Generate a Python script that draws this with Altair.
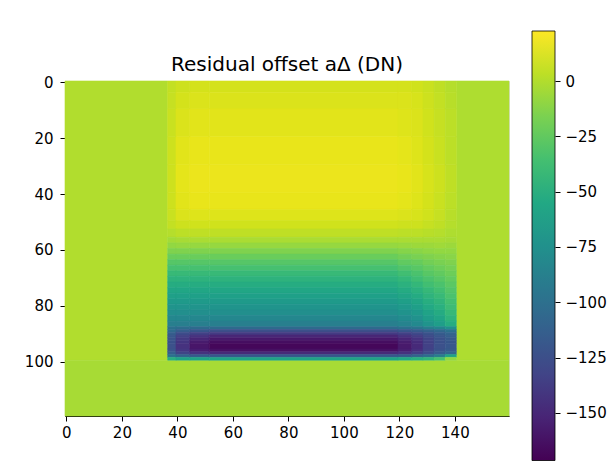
import altair as alt
import pandas as pd

# ---------------- chart values ----------------
n_cols, n_rows = 160, 120              # image size in pixels
v_min, v_max = -173, 22.6              # colour-scale limits (DN)
cbar_lo = -171.5                       # lowest value visible on the colour bar
cbar_ticks = [0, -25, -50, -75, -100, -125, -150]
x_ticks = [0, 20, 40, 60, 80, 100, 120, 140]
y_ticks = [0, 20, 40, 60, 80, 100]
title_text = "Residual offset a\u0394 (DN)"

# background levels outside the illuminated rectangle
bg_left = 0       # columns 0-37, rows 0-100
bg_right = -1     # columns 141-160, rows 0-100
bg_bottom = -3    # rows 100-120, all columns

# illuminated rectangle: column zones and row bands
zone_edges = [37, 40, 45, 52, 120, 125, 129, 133, 137, 141]
band_edges = [0, 4, 10, 20, 30, 40, 46, 50, 53, 56, 58, 60, 62, 64, 66, 68, 70,
              72, 74, 76, 78, 80, 82, 84, 86, 88, 89, 90, 91, 92, 93, 94, 96,
              97, 98, 99, 100]

zone_37_40 = [5, 6, 7, 8, 8, 8, 7, 5, 1, -4, -9, -15, -22, -29, -35, -41, -47,
              -52, -57, -62, -67, -72, -77, -83, -90, -100, -105, -115, -120,
              -122, -124, -125, -122, -115, -100, -50]
zone_40_45 = [8, 10, 12, 14, 15, 14, 12, 8, 3, -3, -8, -15, -22, -29, -35, -41,
              -47, -52, -57, -62, -67, -72, -77, -83, -90, -103, -115, -128,
              -135, -140, -143, -145, -142, -133, -112, -60]
zone_45_52 = [10, 12, 14, 16, 17, 16, 13, 9, 4, -2, -8, -15, -22, -29, -35, -41,
              -47, -52, -57, -62, -67, -72, -77, -83, -90, -105, -120, -135,
              -145, -152, -158, -162, -158, -145, -118, -60]
zone_52_120 = [10, 12, 14, 16, 17, 16, 13, 9, 4, -2, -8, -15, -22, -29, -35,
               -41, -47, -52, -57, -62, -67, -72, -77, -83, -90, -105, -125,
               -140, -152, -160, -166, -170, -165, -150, -120, -60]
zone_120_125 = [10, 12, 13, 15, 16, 15, 12, 8, 3, -2, -7, -13, -19, -25, -31,
                -37, -43, -48, -53, -58, -63, -68, -73, -79, -86, -100, -120,
                -135, -145, -152, -157, -160, -157, -145, -118, -55]
zone_125_129 = [9, 11, 12, 13, 14, 13, 11, 8, 3, -2, -6, -12, -17, -23, -28,
                -33, -38, -43, -48, -53, -58, -63, -68, -74, -81, -97, -117,
                -130, -138, -144, -148, -150, -147, -137, -112, -50]
zone_129_133 = [7, 8, 9, 10, 11, 10, 9, 6, 2, -2, -6, -10, -15, -19, -24, -28,
                -33, -37, -42, -46, -51, -55, -60, -65, -72, -90, -112, -123,
                -129, -133, -135, -136, -134, -127, -104, -45]
zone_133_137 = [4, 5, 6, 7, 8, 7, 6, 4, 1, -2, -5, -9, -13, -17, -21, -25, -29,
                -33, -37, -41, -45, -49, -53, -58, -64, -84, -106, -116, -121,
                -124, -125, -125, -123, -117, -92, -35]
zone_137_141 = [1, 2, 3, 3, 4, 3, 2, 1, -1, -3, -6, -9, -12, -15, -18, -21, -24,
                -27, -30, -33, -36, -39, -42, -46, -52, -75, -100, -110, -115,
                -118, -120, -120, -118, -110, -60, -10]
zones = [zone_37_40, zone_40_45, zone_45_52, zone_52_120, zone_120_125,
         zone_125_129, zone_129_133, zone_133_137, zone_137_141]

# viridis colour stops for the colour bar
viridis_stops = ["#440154", "#482475", "#414487", "#355f8d", "#2a788e", "#21918c",
                 "#22a884", "#44bf70", "#7ad151", "#bddf26", "#fde725"]

# ---------------- build the table of image regions ----------------
rows = []
def add(c0, c1, r0, r1, v):
    rows.append({"x0": c0 - 0.5, "x1": c1 - 0.5, "y0": r0 - 0.5, "y1": r1 - 0.5, "v": v})

add(0, zone_edges[0], 0, band_edges[-1], bg_left)
add(zone_edges[-1], n_cols, 0, band_edges[-1], bg_right)
add(0, n_cols, band_edges[-1], n_rows, bg_bottom)
for zi, vals in enumerate(zones):
    for bi, v in enumerate(vals):
        add(zone_edges[zi], zone_edges[zi + 1], band_edges[bi], band_edges[bi + 1], v)
img = pd.DataFrame(rows)

cbar = pd.DataFrame([{"c0": 0, "c1": 1, "lo": cbar_lo, "hi": v_max}])

FONT = "DejaVu Sans"
color_scale = alt.Scale(scheme="viridis", domain=[v_min, v_max], clamp=True)

axis_style = dict(title=None, grid=False, tickSize=5, tickColor="black",
                  labelFontSize=15, labelColor="black", labelFont=FONT,
                  labelFlush=False)

heat = alt.Chart(img).mark_rect(strokeWidth=0.6).encode(
    x=alt.X("x0:Q", scale=alt.Scale(domain=[-0.5, n_cols - 0.5], nice=False, zero=False),
            axis=alt.Axis(values=x_ticks, domainColor="black", labelPadding=4,
                          **axis_style)),
    x2="x1:Q",
    y=alt.Y("y0:Q", scale=alt.Scale(domain=[-0.5, n_rows - 0.5], nice=False, zero=False,
                                    reverse=True),
            axis=alt.Axis(values=y_ticks, domainColor="black", labelPadding=7,
                          **axis_style)),
    y2="y1:Q",
    fill=alt.Fill("v:Q", scale=color_scale, legend=None),
    stroke=alt.Stroke("v:Q", scale=color_scale, legend=None),
)

grad = alt.Gradient(
    gradient="linear",
    stops=[alt.GradientStop(offset=i / (len(viridis_stops) - 1), color=c)
           for i, c in enumerate(viridis_stops)],
    x1=0, x2=0, y1=1, y2=0,
)

# colour bar: 0 sits level with the top of the image, 2.213 px per DN
bar = alt.Chart(cbar).mark_rect(fill=grad, stroke="black", strokeWidth=0.8).encode(
    x=alt.X("c0:Q", scale=alt.Scale(domain=[0, 1], range=[467, 490]), axis=None),
    x2="c1:Q",
    y=alt.Y("lo:Q", scale=alt.Scale(domain=[cbar_lo, v_max], range=[379.5, -50],
                                    nice=False, zero=False),
            axis=alt.Axis(orient="right", values=cbar_ticks, offset=46, domain=False,
                          format="d", labelPadding=5, **axis_style)),
    y2="hi:Q",
)

chart = alt.layer(heat, bar).resolve_scale(
    x="independent", y="independent", fill="shared", stroke="shared"
).properties(
    width=444, height=335,
    title=alt.TitleParams(title_text, font=FONT, fontSize=20, fontWeight="normal",
                          color="black", anchor="middle", offset=-44),
    autosize=alt.AutoSizeParams(type="none"),
    padding={"left": 57, "top": 73, "right": 99, "bottom": 45},
).configure_view(stroke="black", strokeWidth=1).configure(background="white")

chart.save("out.html", embed_options={"renderer": "svg", "actions": False})
